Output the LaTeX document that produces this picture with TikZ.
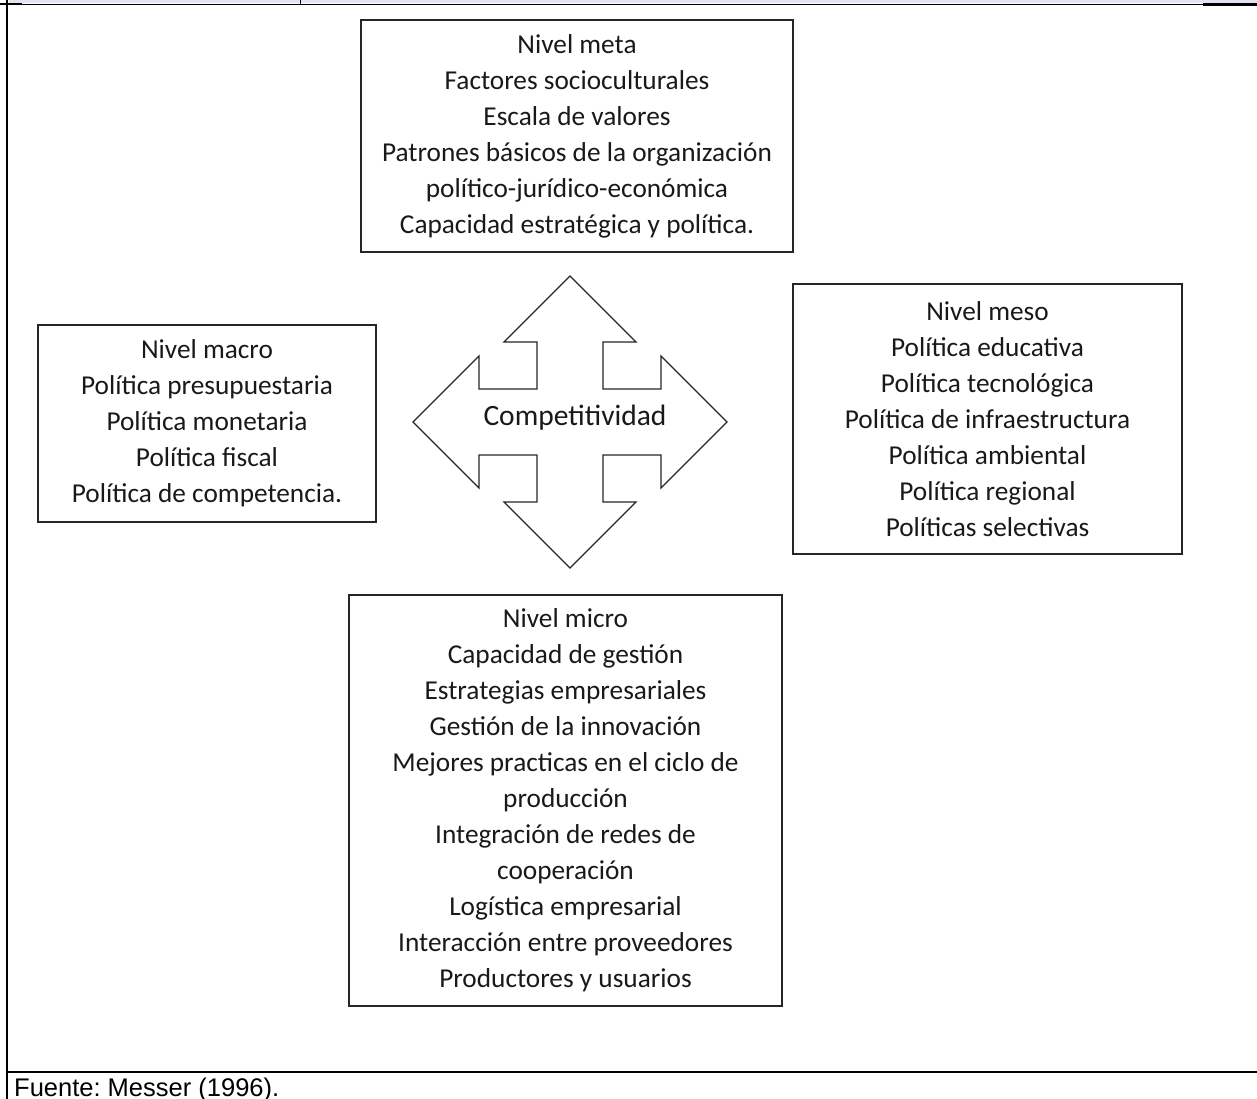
\documentclass[tikz,border=0pt]{standalone}
\usepackage{fontspec}
\setmainfont{Carlito}
\newfontfamily\fuentefont{Liberation Sans}
\usepackage{xcolor}
\usetikzlibrary{positioning}
\frenchspacing
\definecolor{banda}{HTML}{E6E1F0}
\tikzset{nivel/.style={rectangle, draw=black!85, line width=1.6pt, align=center, inner sep=0pt,
    font=\fontsize{27.3}{36}\selectfont, text=black!90}}
\tikzset{flecha/.style={draw=black!85, line width=1.3pt, line join=miter, fill=white}}

\begin{document}
\begin{tikzpicture}[x=1pt,y=-1pt]
  \useasboundingbox (0,0) rectangle (1257,1099);

  % marco de la tabla
  \fill[banda] (9,0) rectangle (1257,3.5);
  \draw[line width=0.8pt] (9,4) -- (1203,4);
  \draw[line width=2pt] (0,4.5) -- (22,4.5);
  \draw[line width=2.5pt] (1203,4.5) -- (1257,4.5);
  \draw[line width=1pt] (300,0) -- (300,5);
  \draw[line width=2pt] (7,0) -- (7,1099);
  \draw[line width=2.2pt] (7,1072) -- (1257,1072);

  % flecha de cuatro puntas
  \draw[flecha, shift={(570,422)}]
    (0,-146) -- (66,-80) -- (33,-80) -- (33,-33) -- (91,-33) -- (91,-66) --
    (157,0) -- (91,66) -- (91,33) -- (33,33) -- (33,80) -- (66,80) --
    (0,146) -- (-66,80) -- (-33,80) -- (-33,33) -- (-91,33) -- (-91,66) --
    (-157,0) -- (-91,-66) -- (-91,-33) -- (-33,-33) -- (-33,-80) -- (-66,-80) -- cycle;
  \node[font=\fontsize{29.5}{34}\selectfont, text=black!90] (comp) at (575,418) {Competitividad};

  \node[nivel, minimum width=432pt, minimum height=232pt] (meta) at (577,136)
    {Nivel meta\\Factores socioculturales\\Escala de valores\\Patrones básicos de la organización\\político-jurídico-económica\\Capacidad estratégica y política.};

  \node[nivel, minimum width=338pt, minimum height=197pt] (macro) at (207,423.5)
    {Nivel macro\\Política presupuestaria\\Política monetaria\\Política fiscal\\Política de competencia.};

  \node[nivel, minimum width=389pt, minimum height=270pt] (meso) at (987.5,419)
    {Nivel meso\\Política educativa\\Política tecnológica\\Política de infraestructura\\Política ambiental\\Política regional\\Políticas selectivas};

  \node[nivel, minimum width=433pt, minimum height=411pt] (micro) at (565.5,800.5)
    {Nivel micro\\Capacidad de gestión\\Estrategias empresariales\\Gestión de la innovación\\Mejores practicas en el ciclo de\\producción\\Integración de redes de\\cooperación\\Logística empresarial\\Interacción entre proveedores\\Productores y usuarios};

  \node[anchor=base west, inner sep=0pt, font=\fuentefont\fontsize{25.5}{28}\selectfont] (fuente) at (14,1096) {Fuente: Messer (1996).};
\end{tikzpicture}
\end{document}
